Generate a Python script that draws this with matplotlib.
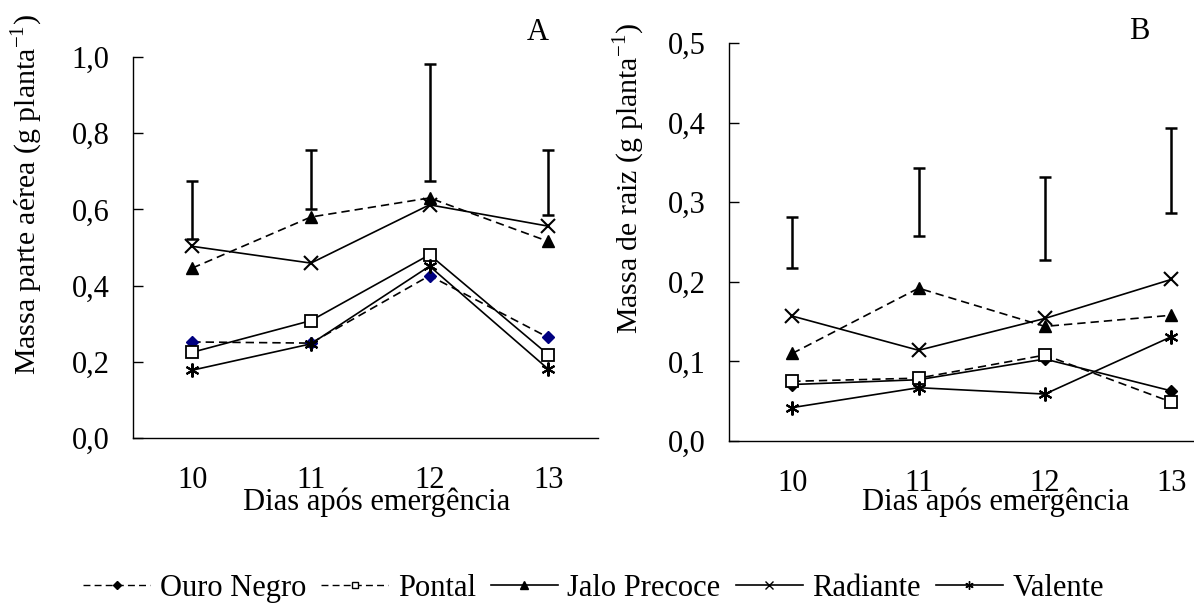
import matplotlib.pyplot as plt
from matplotlib.lines import Line2D
import numpy as np

plt.rcParams['font.family'] = ['Liberation Serif', 'DejaVu Serif']
plt.rcParams['mathtext.fontset'] = 'custom'
plt.rcParams['mathtext.rm'] = 'Liberation Serif'

dias = [10, 11, 12, 13]
cultivares = ['Ouro Negro', 'Pontal', 'Jalo Precoce', 'Radiante', 'Valente']

# A - massa parte aerea
a_ouro = [0.252, 0.249, 0.426, 0.264]
a_pontal = [0.225, 0.308, 0.481, 0.219]
a_jalo = [0.446, 0.580, 0.630, 0.516]
a_radiante = [0.503, 0.459, 0.612, 0.556]
a_valente = [0.178, 0.247, 0.451, 0.181]
a_err_lo = [0.522, 0.601, 0.675, 0.584]
a_err_hi = [0.675, 0.757, 0.982, 0.757]

# B - massa de raiz
b_ouro = [0.071, 0.077, 0.103, 0.063]
b_pontal = [0.075, 0.079, 0.108, 0.049]
b_jalo = [0.110, 0.192, 0.144, 0.158]
b_radiante = [0.157, 0.114, 0.154, 0.203]
b_valente = [0.042, 0.067, 0.059, 0.131]
b_err_lo = [0.217, 0.257, 0.228, 0.286]
b_err_hi = [0.281, 0.343, 0.332, 0.393]

dash = (0, (5, 3))
lw = 1.2
fs = 22

fig = plt.figure(figsize=(11.94, 6.1), dpi=100)
axA = fig.add_axes([0.1114, 0.2820, 0.3894, 0.6246])
axB = fig.add_axes([0.6106, 0.2770, 0.3894, 0.6525])


def estilo(ax, ylim, yticks, xlim, xpad):
    ax.set_xlim(*xlim)
    ax.set_ylim(*ylim)
    ax.set_xticks(dias)
    ax.set_yticks(yticks)
    ax.set_yticklabels([('%.1f' % v).replace('.', ',') for v in yticks])
    for s in ['top', 'right']:
        ax.spines[s].set_visible(False)
    for s in ['left', 'bottom']:
        ax.spines[s].set_linewidth(1.0)
    ax.tick_params(axis='y', direction='in', length=7, width=1, pad=17, labelsize=fs)
    ax.tick_params(axis='x', length=0, pad=xpad, labelsize=fs)


def series(ax, ouro, pontal, jalo, radiante, valente, ls_ouro, ls_pontal, ouro_cor):
    ax.plot(dias, ouro, color='black', ls=ls_ouro, lw=lw, marker='D', ms=6,
            mfc=ouro_cor, mec=ouro_cor, zorder=3)
    ax.plot(dias, pontal, color='black', ls=ls_pontal, lw=lw, marker='s', ms=9,
            mfc='white', mec='black', mew=1.3, zorder=3)
    ax.plot(dias, jalo, color='black', ls=dash, lw=lw, marker='^', ms=9,
            mfc='black', mec='black', zorder=3)
    ax.plot(dias, radiante, color='black', ls='-', lw=lw, marker='x', ms=10,
            mec='black', mew=1.5, zorder=3)
    ax.plot(dias, valente, color='black', ls='-', lw=lw, marker=(6, 2, 0), ms=10,
            mec='black', mew=1.5, zorder=3)


# painel A
series(axA, a_ouro, a_pontal, a_jalo, a_radiante, a_valente, dash, '-', '#000080')
lo, hi = np.array(a_err_lo), np.array(a_err_hi)
axA.errorbar(dias, (lo + hi) / 2, yerr=(hi - lo) / 2, fmt='none', ecolor='black',
             elinewidth=1.8, capsize=4, capthick=1.8)
estilo(axA, (0, 1.0), [0, 0.2, 0.4, 0.6, 0.8, 1.0], (9.5, 13.42), 20)
axA.set_ylabel('Massa parte aérea (g planta$^{\\mathrm{-1}}$)', fontsize=21.5)
axA.yaxis.set_label_coords(-0.19, 0.638)
axA.set_xlabel('Dias após emergência', fontsize=fs)
axA.xaxis.set_label_coords(0.523, -0.168)
axA.xaxis.label.set_va('center')
axA.text(0.87, 1.065, 'A', transform=axA.transAxes, fontsize=22,
         ha='center', va='center')

# painel B
series(axB, b_ouro, b_pontal, b_jalo, b_radiante, b_valente, '-', dash, 'black')
lo, hi = np.array(b_err_lo), np.array(b_err_hi)
axB.errorbar(dias, (lo + hi) / 2, yerr=(hi - lo) / 2, fmt='none', ecolor='black',
             elinewidth=1.8, capsize=4, capthick=1.8)
estilo(axB, (0, 0.5), [0, 0.1, 0.2, 0.3, 0.4, 0.5], (9.5, 13.18), 20)
axB.set_ylabel('Massa de raiz (g planta$^{\\mathrm{-1}}$)', fontsize=21.5)
axB.yaxis.set_label_coords(-0.176, 0.66)
axB.set_xlabel('Dias após emergência', fontsize=fs)
axB.xaxis.set_label_coords(0.574, -0.155)
axB.xaxis.label.set_va('center')
axB.text(0.883, 1.03, 'B', transform=axB.transAxes, fontsize=22,
         ha='center', va='center')

# legenda
handles = [
    Line2D([], [], color='black', ls=dash, lw=1, marker='D', ms=4, mfc='black'),
    Line2D([], [], color='black', ls=dash, lw=1, marker='s', ms=5, mfc='white'),
    Line2D([], [], color='black', ls='-', lw=1.2, marker='^', ms=6, mfc='black'),
    Line2D([], [], color='black', ls='-', lw=1.2, marker='x', ms=6),
    Line2D([], [], color='black', ls='-', lw=1.2, marker=(6, 2, 0), ms=6),
]
fig.legend(handles, cultivares, loc='center', bbox_to_anchor=(0.497, 0.035),
           ncol=5, frameon=False, fontsize=fs, handlelength=2.2,
           handletextpad=0.3, columnspacing=0.5, borderpad=0)

fig.savefig('out.png', dpi=100)
